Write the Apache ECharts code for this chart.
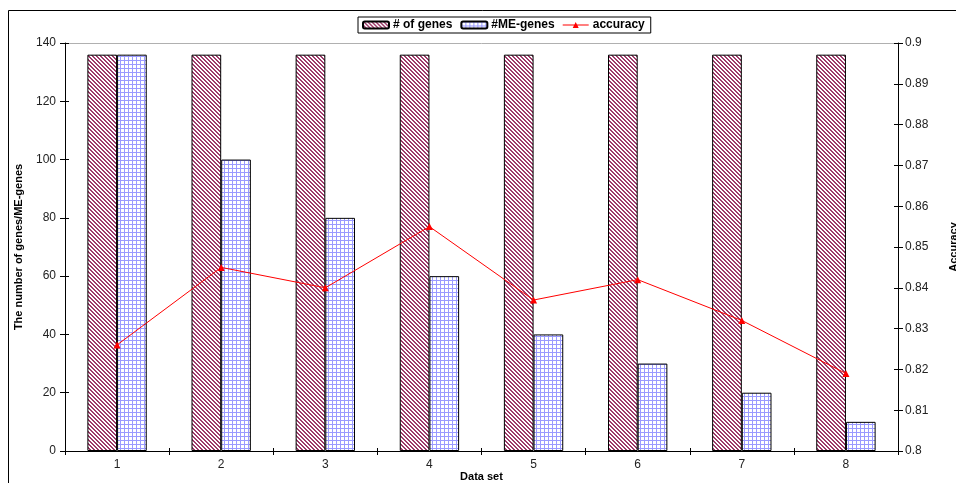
<!DOCTYPE html>
<html>
<head>
<meta charset="utf-8">
<script src="https://cdn.jsdelivr.net/npm/echarts@6/dist/echarts.min.js"></script>
<style>
  html, body { margin: 0; padding: 0; background: #fff; }
  #chart { width: 956px; height: 483px; }
</style>
</head>
<body>
<div id="chart"></div>
<script>
// Data sets and measured values
const categories = ['1', '2', '3', '4', '5', '6', '7', '8'];
const numGenes   = [136, 136, 136, 136, 136, 136, 136, 136];
const meGenes    = [136, 100, 80, 60, 40, 30, 20, 10];
const accuracy   = [0.826, 0.845, 0.840, 0.855, 0.837, 0.842, 0.832, 0.819];

// Hatched fill: maroon "\" stripes on white
function stripePattern() {
  const c = document.createElement('canvas');
  c.width = 4; c.height = 4;
  const g = c.getContext('2d');
  g.fillStyle = '#ffffff';
  g.fillRect(0, 0, 4, 4);
  g.fillStyle = '#9e3a6a';
  for (let y = 0; y < 4; y++) {
    for (let x = 0; x < 4; x++) {
      const d = ((x - y) % 4 + 4) % 4;
      if (d === 0 || d === 1) g.fillRect(x, y, 1, 1);
    }
  }
  return c;
}

// Grid fill: thin blue lines on white
function gridPattern() {
  const c = document.createElement('canvas');
  c.width = 4; c.height = 4;
  const g = c.getContext('2d');
  g.fillStyle = '#ffffff';
  g.fillRect(0, 0, 4, 4);
  g.fillStyle = '#9a9aff';
  g.fillRect(0, 0, 4, 1);
  g.fillRect(0, 0, 1, 4);
  return c;
}

const chart = echarts.init(document.getElementById('chart'));
const font = 'Liberation Sans, Arial, sans-serif';
const tickLabel = { color: '#222', fontSize: 12, fontFamily: font };
const titleStyle = { fontFamily: font, fontSize: 11, fontWeight: 'bold', color: '#000' };

const hiddenClone = (extra) => Object.assign({
  axisLabel: { show: false },
  splitLine: { show: false },
  axisLine: { show: false }
}, extra);

chart.setOption({
  animation: false,
  backgroundColor: '#ffffff',
  grid: { left: 65, right: 58, top: 43, bottom: 32, outerBoundsMode: 'none', containLabel: false },
  legend: {
    left: 358,
    top: 17,
    padding: [2, 6, 2, 4],
    itemGap: 8,
    itemWidth: 26,
    itemHeight: 7,
    borderColor: '#000',
    borderWidth: 1,
    textStyle: { fontFamily: font, fontSize: 12, fontWeight: 'bold', color: '#000', padding: [0, 0, 0, -1] },
    data: [
      { name: '# of genes' },
      { name: '#ME-genes' },
      { name: 'accuracy', icon: 'path://M0,3.5 L26,3.5 L26,4.5 L0,4.5 Z M10,7 L13,1 L16,7 Z' }
    ]
  },
  xAxis: [
    {
      type: 'category',
      data: categories,
      boundaryGap: true,
      name: 'Data set',
      nameLocation: 'middle',
      nameMoveOverlap: false,
      nameGap: 20,
      nameTextStyle: titleStyle,
      axisLine: { lineStyle: { color: '#000', width: 1 } },
      axisTick: { show: true, alignWithLabel: false, length: 4, lineStyle: { color: '#000' } },
      axisLabel: Object.assign({ margin: 8 }, tickLabel)
    },
    hiddenClone({
      type: 'category', data: categories, boundaryGap: true, position: 'bottom',
      axisTick: { show: true, inside: true, length: 3, lineStyle: { color: '#000' } }
    }),
    {
      type: 'category', data: categories, position: 'top',
      axisLine: { show: true, lineStyle: { color: '#b0b0b0' } },
      axisTick: { show: false }, axisLabel: { show: false }, splitLine: { show: false }
    }
  ],
  yAxis: [
    {
      type: 'value',
      min: 0, max: 140, interval: 20,
      name: 'The number of genes/ME-genes',
      nameLocation: 'middle',
      nameMoveOverlap: false,
      nameGap: 41,
      nameTextStyle: titleStyle,
      axisLine: { show: true, lineStyle: { color: '#000' } },
      axisTick: { show: true, length: 5, lineStyle: { color: '#000' } },
      axisLabel: Object.assign({ margin: 9 }, tickLabel),
      splitLine: { show: false }
    },
    {
      type: 'value',
      position: 'right',
      min: 0.8, max: 0.9, interval: 0.01,
      name: 'Accuracy',
      nameLocation: 'middle',
      nameMoveOverlap: false,
      nameGap: 50,
      nameTextStyle: titleStyle,
      axisLine: { show: true, lineStyle: { color: '#000' } },
      axisTick: { show: true, length: 5, lineStyle: { color: '#000' } },
      axisLabel: Object.assign({ margin: 7, formatter: v => String(Number(v.toFixed(2))) }, tickLabel),
      splitLine: { show: false }
    },
    hiddenClone({
      type: 'value', min: 0, max: 140, interval: 20, position: 'left',
      axisTick: { show: true, inside: true, length: 4, lineStyle: { color: '#000' } }
    }),
    hiddenClone({
      type: 'value', min: 0.8, max: 0.9, interval: 0.01, position: 'right',
      axisTick: { show: true, inside: true, length: 4, lineStyle: { color: '#000' } }
    })
  ],
  graphic: [
    {
      type: 'rect',
      shape: { x: 8.5, y: 10.5, width: 1000, height: 1000 },
      style: { fill: 'none', stroke: '#000', lineWidth: 1 },
      silent: true
    }
  ],
  series: [
    {
      name: '# of genes',
      type: 'bar',
      xAxisIndex: 0, yAxisIndex: 0,
      data: numGenes,
      barGap: '0%',
      barCategoryGap: '43%',
      itemStyle: {
        color: { image: stripePattern(), repeat: 'repeat' },
        borderColor: '#000',
        borderWidth: 1
      }
    },
    {
      name: '#ME-genes',
      type: 'bar',
      xAxisIndex: 0, yAxisIndex: 0,
      data: meGenes,
      barGap: '0%',
      barCategoryGap: '43%',
      itemStyle: {
        color: { image: gridPattern(), repeat: 'repeat' },
        borderColor: '#000',
        borderWidth: 1
      }
    },
    {
      name: 'accuracy',
      type: 'line',
      xAxisIndex: 0, yAxisIndex: 1,
      data: accuracy,
      symbol: 'triangle',
      symbolSize: 7,
      lineStyle: { color: '#ff0000', width: 1 },
      itemStyle: { color: '#ff0000' },
      z: 5
    }
  ]
});
</script>
</body>
</html>
